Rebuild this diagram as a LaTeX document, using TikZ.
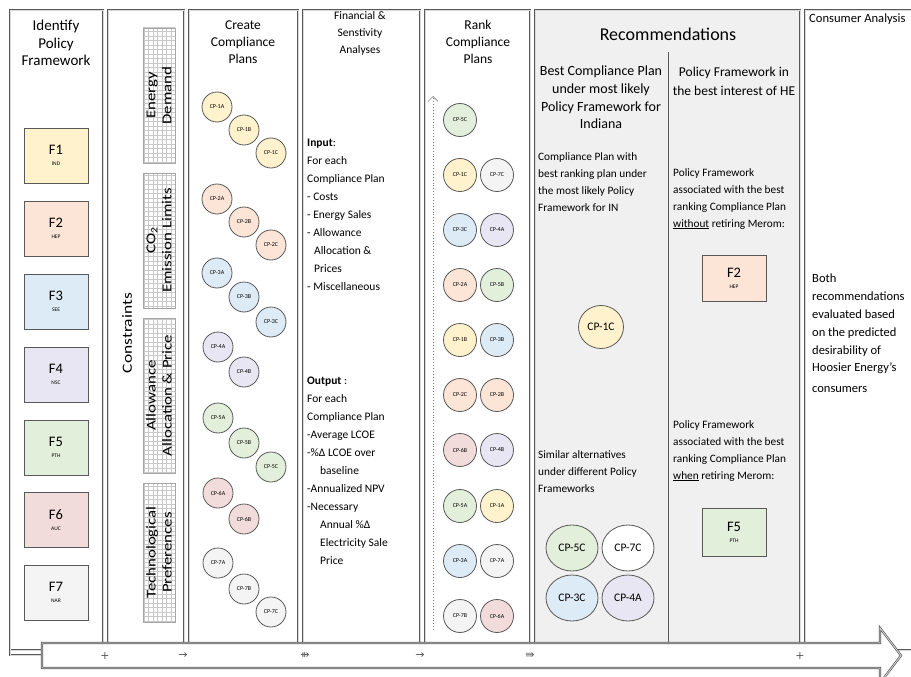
\documentclass[tikz,border=0pt]{standalone}
\usepackage{fontspec}
\setmainfont{Carlito}
\newfontfamily\symfont{DejaVu Sans}
\newfontfamily\widefont[FakeStretch=1.25]{Carlito}
\usetikzlibrary{shapes.geometric,arrows.meta}
\definecolor{cy}{HTML}{FFF2CC}
\definecolor{cpe}{HTML}{FCE4D6}
\definecolor{cb}{HTML}{DDEBF7}
\definecolor{cl}{HTML}{E8E6F2}
\definecolor{cg}{HTML}{E2EFDA}
\definecolor{cr}{HTML}{F2DCDB}
\definecolor{cw}{HTML}{F4F4F4}
\definecolor{bd}{HTML}{595959}
\definecolor{recbg}{HTML}{F0F0F0}
\definecolor{gridc}{HTML}{C8C8C8}
\tikzset{
  col/.style={draw=bd, line width=0.7pt, double=gray!30, double distance=0.8pt},
  ttl/.style={align=center, font=\fontsize{13.5}{17}\selectfont},
  txt/.style={align=left, inner sep=0pt, font=\fontsize{11.5}{18}\selectfont},
  small/.style={align=left, inner sep=0pt, font=\fontsize{11.3}{17}\selectfont},
  fbox/.style={draw=bd, line width=1pt, minimum width=64pt, minimum height=55pt, inner sep=0pt, align=center},
  cp/.style={circle, draw=bd, line width=0.8pt, minimum size=30pt, inner sep=0pt, font=\fontsize{6}{6}\selectfont},
  rk/.style={circle, draw=bd, line width=0.8pt, minimum size=33pt, inner sep=0pt, font=\fontsize{6}{6}\selectfont},
  rc/.style={ellipse, draw=bd, line width=0.8pt, minimum width=52pt, minimum height=46pt, inner sep=0pt, font=\fontsize{11.5}{12}\selectfont},
  gbox/.style={draw=gray!70, line width=0.8pt},
  rot/.style={rotate=90, align=center, font=\widefont\fontsize{13.5}{16}\selectfont},
  sym/.style={font=\symfont\fontsize{11}{12}\selectfont, text=bd}
}
\newcommand{\ftext}[2]{{\fontsize{14.5}{15}\selectfont #1}\\[-1pt]{\fontsize{5.5}{6}\selectfont #2}}
\begin{document}
\begin{tikzpicture}[x=1pt,y=-1pt]
\clip (0,0) rectangle (911,677);
\fill[white] (0,0) rectangle (911,677);

% columns
\draw[col] (10,10) rectangle (103,650);
\draw[col] (10,650) -- (10,655) -- (42,655);
\draw[col] (108,10) rectangle (184,650);
\draw[col] (189,10) rectangle (298,650);
\draw[col] (303,10) rectangle (420,650);
\draw[col] (425,10) rectangle (530,650);
\draw[col, fill=recbg] (535,10) rectangle (800,650);
\draw[col] (805,10) rectangle (930,650);
\draw[draw=bd, line width=1pt] (668,52) -- (668,645);

% titles
\node[ttl, font=\fontsize{15}{17.5}\selectfont] (t1) at (56,43) {Identify\\Policy\\Framework};
\node[ttl] (t3) at (243,42) {Create\\Compliance\\Plans};
\node[ttl, font=\fontsize{11.5}{17}\selectfont] (t4) at (360,33) {Financial \&\\Senstivity\\Analyses};
\node[ttl] (t5) at (478,42) {Rank\\Compliance\\Plans};
\node[font=\fontsize{18}{20}\selectfont] (t6) at (668,34) {Recommendations};
\node[anchor=west, inner sep=0pt, font=\fontsize{12.6}{14}\selectfont] (t7) at (809,19) {Consumer Analysis};

% policy frameworks
\node[fbox, fill=cy]  (f1) at (56,155.5) {\ftext{F1}{IND}};
\node[fbox, fill=cpe] (f2) at (56,228.5) {\ftext{F2}{HEP}};
\node[fbox, fill=cb]  (f3) at (56,301.5) {\ftext{F3}{SEE}};
\node[fbox, fill=cl]  (f4) at (56,374.5) {\ftext{F4}{NSC}};
\node[fbox, fill=cg]  (f5) at (56,447.5) {\ftext{F5}{PTH}};
\node[fbox, fill=cr]  (f6) at (56,520) {\ftext{F6}{AUC}};
\node[fbox, fill=cw]  (f7) at (56,592.5) {\ftext{F7}{NAR}};

% constraints
\node[rot, font=\widefont\fontsize{14}{16}\selectfont] (constr) at (127,333) {Constraints};
\foreach \a/\b in {28/163,173/308,318/473,483/622}{
  \begin{scope}
    \clip (143,\a) rectangle (175,\b);
    \draw[gridc, line width=0.35pt, step=4.5pt] (140,\a-4) grid (178,\b+4);
  \end{scope}
  \draw[gbox] (143,\a) rectangle (175,\b);
}
\node[rot] (g1) at (159,95.5) {Energy\\Demand};
\node[rot] (g2) at (159,240.5) {CO\textsubscript{2}\\Emission Limits};
\node[rot] (g3) at (159,395.5) {Allowance\\Allocation \& Price};
\node[rot] (g4) at (159,552.5) {Technological\\Preferences};

% create compliance plans
\node[cp, fill=cy]  (c1a) at (217,107) {CP-1A};
\node[cp, fill=cy]  (c1b) at (244,130) {CP-1B};
\node[cp, fill=cy]  (c1c) at (271,153) {CP-1C};
\node[cp, fill=cpe] (c2a) at (217,199) {CP-2A};
\node[cp, fill=cpe] (c2b) at (244,222) {CP-2B};
\node[cp, fill=cpe] (c2c) at (271,245) {CP-2C};
\node[cp, fill=cb]  (c3a) at (217,273) {CP-3A};
\node[cp, fill=cb]  (c3b) at (244,297) {CP-3B};
\node[cp, fill=cb]  (c3c) at (271,322) {CP-3C};
\node[cp, fill=cl]  (c4a) at (218,347) {CP-4A};
\node[cp, fill=cl]  (c4b) at (244,372) {CP-4B};
\node[cp, fill=cg]  (c5a) at (218,418) {CP-5A};
\node[cp, fill=cg]  (c5b) at (244,443) {CP-5B};
\node[cp, fill=cg]  (c5c) at (271,467) {CP-5C};
\node[cp, fill=cr]  (c6a) at (218,493) {CP-6A};
\node[cp, fill=cr]  (c6b) at (244,519) {CP-6B};
\node[cp, fill=cw]  (c7a) at (218,563) {CP-7A};
\node[cp, fill=cw]  (c7b) at (244,589) {CP-7B};
\node[cp, fill=cw]  (c7c) at (271,612) {CP-7C};

% financial
\node[txt, anchor=north west] (inp) at (307,139) {\textbf{Input}:\\For each\\Compliance Plan\\- Costs\\- Energy Sales\\- Allowance\\\hspace*{7pt}Allocation \&\\\hspace*{7pt}Prices\\- Miscellaneous};
\node[txt, anchor=north west] (outp) at (307,377) {\textbf{Output} :\\For each\\Compliance Plan\\-Average LCOE\\-\%Δ LCOE over\\\hspace*{13pt}baseline\\-Annualized NPV\\-Necessary\\\hspace*{13pt}Annual \%Δ\\\hspace*{13pt}Electricity Sale\\\hspace*{13pt}Price};

% ranking
\coordinate (rkb) at (433,630);
\coordinate (rkt) at (433,96);
\draw[gray, dotted, line width=0.9pt, -{Straight Barb[length=5pt,width=10pt,line width=0.7pt]}] (rkb) -- (rkt);
\node[rk, fill=cg]  (r1a) at (460,120) {CP-5C};
\node[rk, fill=cy]  (r2a) at (460,175) {CP-1C};
\node[rk, fill=cw]  (r2b) at (497,175) {CP-7C};
\node[rk, fill=cb]  (r3a) at (460,230) {CP-3C};
\node[rk, fill=cl]  (r3b) at (497,230) {CP-4A};
\node[rk, fill=cpe] (r4a) at (460,285) {CP-2A};
\node[rk, fill=cg]  (r4b) at (497,285) {CP-5B};
\node[rk, fill=cy]  (r5a) at (460,340) {CP-1B};
\node[rk, fill=cb]  (r5b) at (497,340) {CP-3B};
\node[rk, fill=cpe] (r6a) at (460,395) {CP-2C};
\node[rk, fill=cpe] (r6b) at (497,395) {CP-2B};
\node[rk, fill=cr]  (r7a) at (460,450) {CP-6B};
\node[rk, fill=cl]  (r7b) at (497,450) {CP-4B};
\node[rk, fill=cg]  (r8a) at (460,506) {CP-5A};
\node[rk, fill=cy]  (r8b) at (497,506) {CP-1A};
\node[rk, fill=cb]  (r9a) at (460,561) {CP-3A};
\node[rk, fill=cw]  (r9b) at (497,561) {CP-7A};
\node[rk, fill=cw]  (r10a) at (460,616) {CP-7B};
\node[rk, fill=cr]  (r10b) at (497,616) {CP-6A};

% recommendations left
\node[ttl, font=\fontsize{14}{17.7}\selectfont] (bcp) at (601,97.5) {Best Compliance Plan\\under most likely\\Policy Framework for\\Indiana};
\node[small, anchor=north west] (cpw) at (538,152) {Compliance Plan with\\best ranking plan under\\the most likely Policy\\Framework for IN};
\node[rc, fill=cy, minimum width=45pt, minimum height=43pt] (rec1) at (601,327) {CP-1C};
\node[small, anchor=north west] (sim) at (538,450) {Similar alternatives\\under different Policy\\Frameworks};
\node[rc, fill=cg] (rec2) at (572,548) {CP-5C};
\node[rc, fill=white] (rec3) at (628,548) {CP-7C};
\node[rc, fill=cb] (rec4) at (572,598) {CP-3C};
\node[rc, fill=cl] (rec5) at (628,598) {CP-4A};

% recommendations right
\node[ttl, font=\fontsize{13.5}{19}\selectfont] (pfi) at (734,81.5) {Policy Framework in\\the best interest of HE};
\node[small, anchor=north west] (pfa) at (673,168) {Policy Framework\\associated with the best\\ranking Compliance Plan\\\underline{without} retiring Merom:};
\node[fbox, fill=cpe, minimum height=46pt] (rf2) at (734,278.5) {\ftext{F2}{HEP}};
\node[small, anchor=north west] (pfb) at (673,420) {Policy Framework\\associated with the best\\ranking Compliance Plan\\\underline{when} retiring Merom:};
\node[fbox, fill=cg, minimum height=48pt] (rf5) at (734,532.5) {\ftext{F5}{PTH}};

% consumer analysis
\node[txt, anchor=north west, font=\fontsize{12.5}{17.8}\selectfont] (both) at (812,274) {Both\\recommendations\\evaluated based\\on the predicted\\desirability of\\Hoosier Energy’s\\[3pt]consumers};

% timeline arrow
\draw[col, fill=white] (42,643) -- (880,643) -- (880,628) -- (901,655.5) -- (880,683) -- (880,668) -- (42,668) -- cycle;
\node[sym] (s1) at (105,656) {+};
\node[sym] (s2) at (183,656) {→};
\node[sym] (s3) at (305,656) {⇻};
\node[sym] (s4) at (420,656) {→};
\node[sym] (s5) at (530,656) {⇛};
\node[sym] (s6) at (800,656) {+};
\end{tikzpicture}
\end{document}
